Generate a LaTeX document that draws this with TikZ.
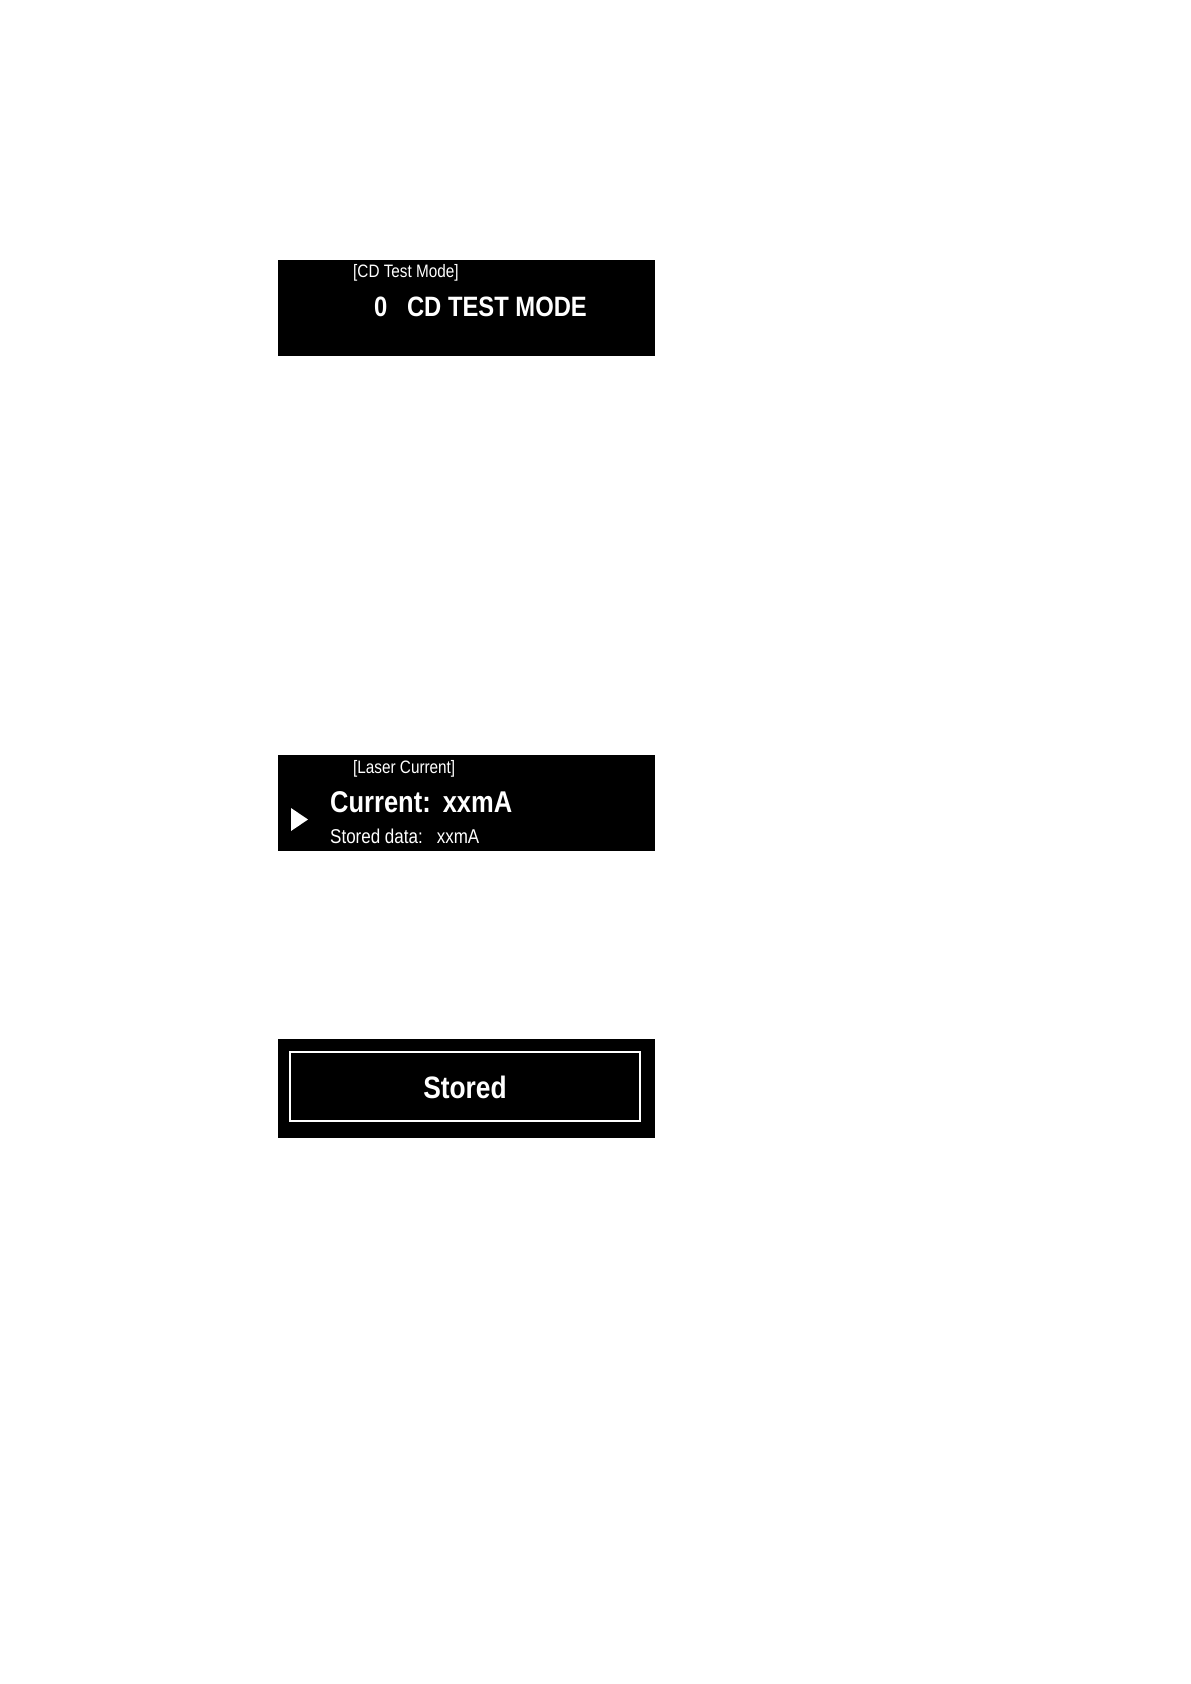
\documentclass[tikz,border=0pt]{standalone}
\usepackage{fontspec}
\setmainfont[FakeStretch=0.85]{Liberation Sans}
\begin{document}
\begin{tikzpicture}[x=1pt,y=-1pt,
  screen/.style={fill=black,draw=black},
  lbl/.style={text=white,inner sep=0,anchor=west}]
\useasboundingbox[fill=white] (0,0) rectangle (1191,1684);
\fill[screen] (278,260) rectangle (654,355);
\node[lbl,font=\fontsize{18}{18}\selectfont] (t1) at (353,273) {[CD Test Mode]};
\node[lbl,font=\bfseries\fontsize{28}{28}\selectfont] (m1) at (374,307) {0\hspace{0.7em}CD TEST MODE};
\fill[screen] (278,755) rectangle (654,850);
\node[lbl,font=\fontsize{18}{18}\selectfont] (t2) at (353,769) {[Laser Current]};
\node[lbl,font=\bfseries\fontsize{30}{30}\selectfont] (m2) at (330,802) {Current:\hspace{0.4em}xxmA};
\node[lbl,font=\fontsize{20}{20}\selectfont] (s2) at (330,836) {Stored data:\hspace{0.7em}xxmA};
\fill[white] (291,808) -- (308,819.5) -- (291,831) -- cycle;
\fill[screen] (278,1039) rectangle (654,1137);
\draw[white,line width=1.5] (290,1052) rectangle (640,1121);
\node[text=white,inner sep=0,font=\bfseries\fontsize{31}{31}\selectfont] (s3) at (465,1087) {Stored};
\end{tikzpicture}
\end{document}
